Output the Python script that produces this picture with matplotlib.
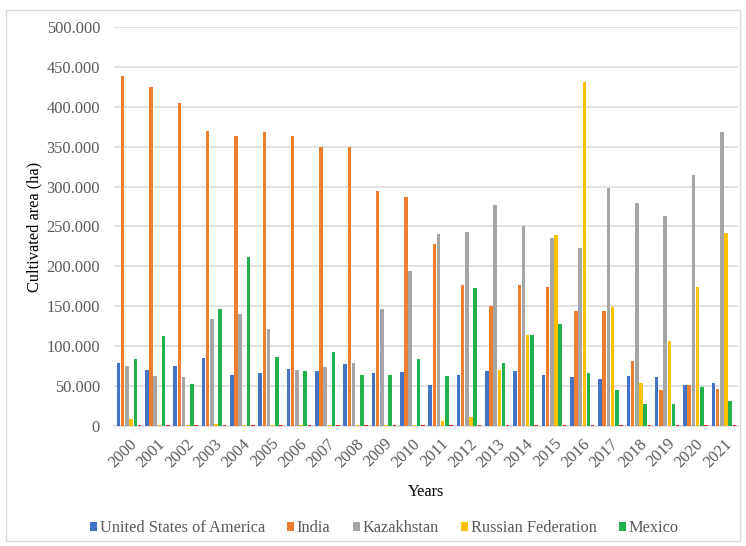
import numpy as np
import matplotlib
matplotlib.use("Agg")
import matplotlib.pyplot as plt
from matplotlib.ticker import FuncFormatter
from matplotlib.patches import Rectangle

years = [str(y) for y in range(2000, 2022)]

usa = [79500, 70000, 75000, 85000, 64500, 66000, 72000, 69000, 78000, 66000, 68000,
       51000, 64500, 69000, 69000, 64500, 61500, 58600, 63000, 61500, 51000, 54000]
india = [438000, 425000, 405000, 370000, 364000, 369000, 364000, 350000, 350000, 294500, 287000,
         228000, 177000, 150600, 177000, 174500, 144000, 144000, 81000, 45000, 51000, 46400]
kazakhstan = [75000, 63000, 61500, 134000, 140000, 122000, 70000, 74000, 79500, 147000, 194000,
              240500, 243500, 277000, 251000, 235000, 222600, 298000, 280000, 263000, 314600, 368600]
russia = [8800, 1500, 1500, 3000, 1500, 1000, 1500, 1000, 1000, 1000, 1000,
          6000, 11700, 70000, 114000, 239000, 430500, 148500, 54000, 106700, 174500, 242000]
mexico = [84000, 113000, 52000, 146000, 212000, 87000, 69000, 93000, 64500, 64500, 84000,
          63000, 173000, 79500, 114000, 128000, 66000, 45000, 27000, 27000, 49000, 31000]
other = [1500] * 22

series = [
    ("United States of America", usa, "#4472C4", True),
    ("India", india, "#ED7D31", True),
    ("Kazakhstan", kazakhstan, "#A5A5A5", True),
    ("Russian Federation", russia, "#FFC000", True),
    ("Mexico", mexico, "#22B14C", True),
    ("_other", other, "#E8262A", False),
]

plt.rcParams["font.family"] = ["Liberation Serif", "DejaVu Serif"]
text_color = "#595959"
fs = 11.8

fig = plt.figure(figsize=(7.46, 5.46), dpi=100)
ax = fig.add_axes([0.1528, 0.2198, 0.8365, 0.7308])

x = np.arange(len(years))
step = 0.148
width = 0.125
handles = []
for i, (name, vals, color, in_legend) in enumerate(series):
    b = ax.bar(x + (i - 2.5) * step, vals, width=width, color=color,
               label=name, zorder=3, linewidth=0)
    if in_legend:
        handles.append(b)

ax.set_xlim(-0.53, 21.5)
ax.set_ylim(0, 500000)
ax.set_yticks(np.arange(0, 500001, 50000))
ax.yaxis.set_major_formatter(FuncFormatter(
    lambda v, p: "0" if v == 0 else f"{int(v):,}".replace(",", ".")))
ax.grid(axis="y", color="#D9D9D9", linewidth=1.1, zorder=0)
for s in ["top", "right", "left"]:
    ax.spines[s].set_visible(False)
ax.spines["bottom"].set_color("#D9D9D9")
ax.spines["bottom"].set_linewidth(1.1)
ax.tick_params(axis="both", length=0, colors=text_color, labelsize=fs)
ax.tick_params(axis="y", pad=10)

ax.set_xticks(x)
ax.set_xticklabels(years, rotation=45, ha="right", va="top", rotation_mode="anchor")
ax.tick_params(axis="x", pad=7)

ax.set_ylabel("Cultivated area (ha)", fontsize=fs, color="#000000", labelpad=3)
ax.set_xlabel("Years", fontsize=fs, color="#000000", labelpad=10)

fig.legend(handles=handles, labels=[h.get_label() for h in handles],
           loc="center", bbox_to_anchor=(0.515, 0.033), ncol=5, frameon=False,
           fontsize=fs, handlelength=0.45, handleheight=0.45, handletextpad=0.15,
           columnspacing=1.35, labelcolor=text_color)

fig.patches.append(Rectangle((0.008, 0.01), 0.984, 0.972, transform=fig.transFigure,
                             fill=False, edgecolor="#D9D9D9", linewidth=1.0))

fig.savefig("out.png", dpi=100)
